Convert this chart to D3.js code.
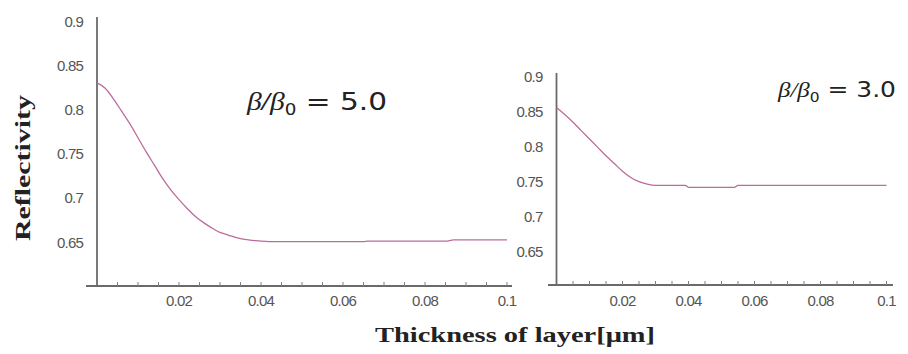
<!DOCTYPE html>
<html>
<head>
<meta charset="utf-8">
<script src="https://cdn.jsdelivr.net/npm/d3@7"></script>
<style>
  html, body { margin: 0; padding: 0; background: #fff; }
  svg { display: block; }
</style>
</head>
<body>
<svg id="chart" width="908" height="354"></svg>
<script>
// ---- Data ----
const thickness5 = [0, 0.002, 0.004, 0.006, 0.008, 0.010, 0.012, 0.014, 0.016, 0.018, 0.020, 0.022, 0.024, 0.026, 0.028, 0.030, 0.032, 0.034, 0.036, 0.038, 0.040, 0.042, 0.050, 0.060, 0.065, 0.066, 0.075, 0.085, 0.087, 0.095, 0.100];
const reflect5   = [0.830, 0.824, 0.812, 0.798, 0.784, 0.768, 0.752, 0.737, 0.722, 0.709, 0.698, 0.688, 0.679, 0.672, 0.666, 0.661, 0.658, 0.655, 0.653, 0.652, 0.651, 0.6505, 0.6505, 0.6505, 0.6505, 0.651, 0.651, 0.651, 0.6525, 0.6525, 0.6525];

const thickness3 = [0, 0.0025, 0.005, 0.0075, 0.010, 0.0125, 0.015, 0.0175, 0.020, 0.0225, 0.025, 0.0275, 0.030, 0.035, 0.039, 0.040, 0.047, 0.054, 0.055, 0.070, 0.085, 0.100];
const reflect3   = [0.855, 0.845, 0.834, 0.822, 0.810, 0.798, 0.786, 0.775, 0.764, 0.755, 0.749, 0.7455, 0.7438, 0.7438, 0.7438, 0.741, 0.741, 0.741, 0.7438, 0.7438, 0.7438, 0.7438];

const yTickValues = [0.65, 0.7, 0.75, 0.8, 0.85, 0.9];
const yTickLabels = ["0.65", "0.7", "0.75", "0.8", "0.85", "0.9"];
const xTickValues = [0.02, 0.04, 0.06, 0.08, 0.1];
const xTickLabels = ["0.02", "0.04", "0.06", "0.08", "0.1"];
const xMinorTicks = d3.range(1, 21).map(i => i * 0.005);

const svg = d3.select("#chart");

const panels = [
  { t: thickness5, r: reflect5, x0: 97, x1: 507, yTop: 21, yBot: 286.3,
    axisLeft: 86, axisRight: 512, yAxisTop: 17, xAxisY: 286,
    label: "5.0", lx: 247, ly: 110, lsize: 25, lw: 140 },
  { t: thickness3, r: reflect3, x0: 556.5, x1: 886.5, yTop: 76, yBot: 286,
    axisLeft: 548, axisRight: 893, yAxisTop: 73, xAxisY: 285,
    label: "3.0", lx: 778, ly: 97, lsize: 22, lw: 118 }
];

const axisColor = "#6a6a6a";
const tickColor = "#808080";
const lineColor = "#bd6b9c";

panels.forEach(p => {
  const x = d3.scaleLinear().domain([0, 0.1]).range([p.x0, p.x1]);
  const y = d3.scaleLinear().domain([0.6, 0.9]).range([p.yBot, p.yTop]);
  const g = svg.append("g");

  // x axis line
  g.append("line")
    .attr("x1", p.axisLeft).attr("x2", p.axisRight)
    .attr("y1", p.xAxisY).attr("y2", p.xAxisY)
    .attr("stroke", axisColor).attr("stroke-width", 1.8);
  // y axis line
  g.append("line")
    .attr("x1", x(0)).attr("x2", x(0))
    .attr("y1", p.yAxisTop).attr("y2", p.xAxisY)
    .attr("stroke", axisColor).attr("stroke-width", 1.8);

  // minor ticks on x axis
  g.selectAll(".mt").data(xMinorTicks).enter().append("line")
    .attr("x1", d => x(d)).attr("x2", d => x(d))
    .attr("y1", p.xAxisY - 4).attr("y2", p.xAxisY)
    .attr("stroke", tickColor).attr("stroke-width", 1);

  // x tick labels
  g.selectAll(".xl").data(xTickValues).enter().append("text")
    .attr("x", d => x(d)).attr("y", 306)
    .attr("text-anchor", "middle")
    .attr("font-family", "Liberation Sans, Arial, sans-serif")
    .attr("font-size", 15).attr("fill", "#555")
    .attr("letter-spacing", -0.8)
    .text((d, i) => xTickLabels[i]);

  // y tick labels
  g.selectAll(".yl").data(yTickValues).enter().append("text")
    .attr("x", x(0) - 14).attr("y", d => y(d) + 5.5)
    .attr("text-anchor", "end")
    .attr("font-family", "Liberation Sans, Arial, sans-serif")
    .attr("font-size", 15).attr("fill", "#555")
    .attr("letter-spacing", -0.8)
    .text((d, i) => yTickLabels[i]);

  // curve
  const line = d3.line()
    .x((d, i) => x(p.t[i])).y(d => y(d))
    .curve(d3.curveMonotoneX);
  g.append("path").datum(p.r)
    .attr("d", line)
    .attr("fill", "none")
    .attr("stroke", lineColor).attr("stroke-width", 1.3);

  // annotation
  const ann = g.append("text")
    .attr("x", p.lx).attr("y", p.ly)
    .attr("font-size", p.lsize).attr("fill", "#222")
    .attr("textLength", p.lw).attr("lengthAdjust", "spacingAndGlyphs");
  ann.append("tspan").attr("font-family", "Liberation Serif, serif").attr("font-style", "italic").text("β");
  ann.append("tspan").attr("font-family", "Liberation Serif, serif").attr("font-style", "italic")
    .attr("font-weight", p.label === "5.0" ? "bold" : "normal").text("/");
  ann.append("tspan").attr("font-family", "Liberation Serif, serif").attr("font-style", "italic").text("β");
  ann.append("tspan").attr("font-family", "DejaVu Sans, sans-serif").attr("font-size", p.lsize * 0.62).attr("dy", 5).text("0");
  ann.append("tspan").attr("font-family", "DejaVu Sans, sans-serif").attr("dy", -5).text(" = " + p.label);
});

// axis titles
svg.append("text")
  .attr("transform", "translate(30,168) rotate(-90)")
  .attr("text-anchor", "middle")
  .attr("font-family", "Liberation Serif, serif")
  .attr("font-size", 22).attr("font-weight", "bold").attr("fill", "#222")
  .attr("textLength", 146).attr("lengthAdjust", "spacingAndGlyphs")
  .text("Reflectivity");

svg.append("text")
  .attr("x", 375).attr("y", 342)
  .attr("font-family", "Liberation Serif, serif")
  .attr("font-size", 22).attr("font-weight", "bold").attr("fill", "#222")
  .attr("textLength", 280).attr("lengthAdjust", "spacingAndGlyphs")
  .text("Thickness of layer[μm]");
</script>
</body>
</html>
